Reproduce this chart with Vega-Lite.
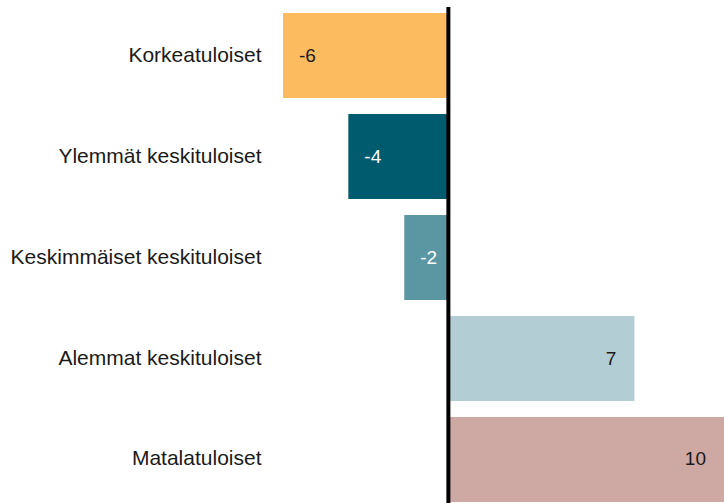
{
  "$schema": "https://vega.github.io/schema/vega-lite/v6.json",
  "autosize": {"type": "none"},
  "padding": {"left": 283, "top": 7, "right": 0, "bottom": 0},
  "width": 441,
  "height": 496,
  "background": "white",
  "config": {"view": {"stroke": null}, "font": "Liberation Sans"},
  "data": {"values": [
    {"group": "Korkeatuloiset", "value": -6.0, "label": "-6"},
    {"group": "Ylemmät keskituloiset", "value": -3.63, "label": "-4"},
    {"group": "Keskimmäiset keskituloiset", "value": -1.6, "label": "-2"},
    {"group": "Alemmat keskituloiset", "value": 6.75, "label": "7"},
    {"group": "Matalatuloiset", "value": 10.0, "label": "10"}
  ]},
  "layer": [
    {
      "mark": {"type": "bar"},
      "encoding": {
        "y": {"field": "group", "type": "nominal", "sort": null,
          "scale": {"paddingInner": 0.1584, "paddingOuter": 0.0347, "align": 0.857},
          "axis": {"title": null, "domain": false, "ticks": false, "labelPadding": 22, "labelFontSize": 21, "labelColor": "#1a1a1a", "labelFont": "Liberation Sans", "labelLimit": 400}},
        "x": {"field": "value", "type": "quantitative", "scale": {"domain": [-6, 10], "nice": false, "zero": true}, "axis": null},
        "color": {"field": "group", "type": "nominal", "legend": null,
          "scale": {"domain": ["Korkeatuloiset", "Ylemmät keskituloiset", "Keskimmäiset keskituloiset", "Alemmat keskituloiset", "Matalatuloiset"],
            "range": ["#FDBB5F", "#005B6E", "#5B96A3", "#B3CDD4", "#CEA8A3"]}}
      }
    },
    {
      "transform": [{"filter": "datum.value < 0"}],
      "mark": {"type": "text", "align": "left", "baseline": "middle", "dx": 16, "fontSize": 19, "font": "Liberation Sans"},
      "encoding": {
        "y": {"field": "group", "type": "nominal", "sort": null},
        "x": {"field": "value", "type": "quantitative"},
        "text": {"field": "label", "type": "nominal"},
        "color": {"condition": {"test": "datum.group === 'Ylemmät keskituloiset' || datum.group === 'Keskimmäiset keskituloiset'", "value": "#ffffff"}, "value": "#1a1a1a"}
      }
    },
    {
      "transform": [{"filter": "datum.value > 0"}],
      "mark": {"type": "text", "align": "right", "baseline": "middle", "dx": -18, "fontSize": 19, "font": "Liberation Sans"},
      "encoding": {
        "y": {"field": "group", "type": "nominal", "sort": null},
        "x": {"field": "value", "type": "quantitative"},
        "text": {"field": "label", "type": "nominal"},
        "color": {"value": "#1a1a1a"}
      }
    },
    {
      "data": {"values": [{"zero": 0}]},
      "mark": {"type": "rule", "color": "black", "strokeWidth": 4},
      "encoding": {"x": {"field": "zero", "type": "quantitative"}}
    }
  ]
}
